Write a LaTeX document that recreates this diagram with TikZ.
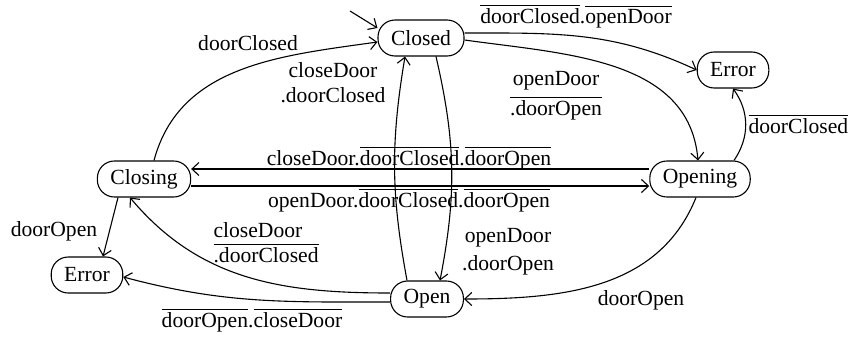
\documentclass[tikz,border=0pt]{standalone}
\usepackage{fontspec}
\setmainfont{Liberation Serif}
\usetikzlibrary{arrows.meta}

\newcommand{\notsig}[1]{$\overline{\mbox{#1}}$}

\begin{document}
\begin{tikzpicture}[x=0.5pt, y=-0.5pt, line width=0.55pt,
    >={Straight Barb[length=3.5pt,width=6.5pt]},
    font=\fontsize{10.8}{12.5}\selectfont,
    state/.style={draw, rectangle, rounded corners=8.5pt, minimum height=18pt,
      inner xsep=6.5pt, inner ysep=2pt},
    lbl/.style={inner sep=0pt, anchor=base}]
    \useasboundingbox (0,0) rectangle (849,337);

    \node[state] (closed) at (421,38) {Closed};
    \node[state] (errtop) at (733,70) {Error};
    \node[state] (closing) at (144,179) {Closing};
    \node[state] (opening) at (700,179) {Opening};
    \node[state] (errlow) at (87,275) {Error};
    \node[state] (open) at (427,299) {Open};
    \coordinate (init) at (350,11);

    \draw[->] (init) -- ([yshift=5pt]closed.west);
    \draw[->] ([xshift=5pt]closing.north) to[out=75, in=188] ([yshift=-2pt]closed.west);
    \draw[->] ([yshift=2.5pt]closed.east) to[out=0, in=155] (errtop.west);
    \draw[->] ([yshift=-1pt]closed.east) to[out=-8, in=95] ([xshift=-1pt]opening.north);
    \draw[->] ([xshift=17pt]opening.north) to[bend right=35] (errtop.south);
    \draw[->] ([yshift=5pt]opening.west) -- ([yshift=5pt]closing.east);
    \draw[->] ([yshift=-3.5pt]closing.east) -- ([yshift=-3.5pt]opening.west);
    \draw[->] ([xshift=-10pt]open.north) to[bend left=10] ([xshift=-8pt]closed.south);
    \draw[->] ([xshift=7.5pt]closed.south) to[bend left=12] ([xshift=6.5pt]open.north);
    \draw[->] ([xshift=-13pt]closing.south) -- ([xshift=8pt]errlow.north);
    \draw[->] ([yshift=3pt]open.west) to[out=180, in=-50] ([xshift=-7pt]closing.south);
    \draw[->] ([yshift=-1.5pt]open.west) to[out=180, in=-15] ([yshift=-1pt]errlow.east);
    \draw[->] ([xshift=-2pt]opening.south) to[out=-112, in=0] (open.east);

    \node[lbl] (lclosing) at (248,50) {doorClosed};
    \node[lbl, align=center] (lopenup) at (333,102) {closeDoor\\.doorClosed};
    \node[lbl] (lerrtop) at (576,23) {\notsig{doorClosed}.\notsig{openDoor}};
    \node[lbl, align=center] (lopening) at (556,115) {openDoor\\[2.5pt]\notsig{.doorOpen}};
    \node[lbl, anchor=base west] (lerrop) at (748,133) {\notsig{doorClosed}};
    \node[lbl] (lback) at (409,165) {closeDoor.\notsig{doorClosed}.\notsig{doorOpen}};
    \node[lbl] (lfwd) at (409,207) {openDoor.\notsig{doorClosed}.\notsig{doorOpen}};
    \node[lbl] (lerrcl) at (54,236) {doorOpen};
    \node[lbl, anchor=base west, align=left] (lopencl) at (213,262) {closeDoor\\\notsig{.doorClosed}};
    \node[lbl, align=center] (lclosedn) at (508,270) {openDoor\\[1.5pt].doorOpen};
    \node[lbl] (lopdn) at (641,305) {doorOpen};
    \node[lbl] (lerrlow) at (252,327) {\notsig{doorOpen}.\notsig{closeDoor}};
\end{tikzpicture}
\end{document}
